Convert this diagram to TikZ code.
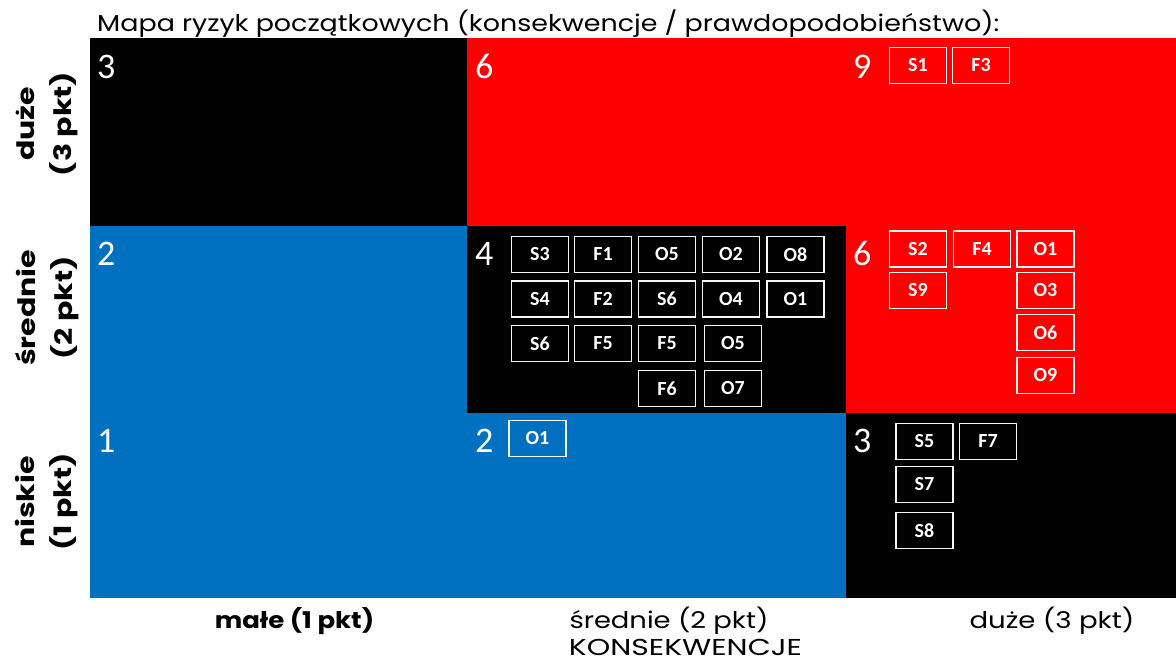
\documentclass[tikz,border=0pt]{standalone}
\usepackage{graphicx}
\usepackage{fontspec}
\setmainfont{Carlito}
\newfontfamily\headfont{Poppins}
\definecolor{riskred}{HTML}{FF0000}
\definecolor{riskblue}{HTML}{0070C0}
% horizontal stretch of a wide geometric label
\newcommand\widen[2]{\scalebox{#1}[1]{#2}}
\tikzset{
  chip/.style={draw=white!92!gray, line width=1.3pt, minimum width=57pt, minimum height=36pt,
    inner sep=0pt, text=white, font=\bfseries\fontsize{20}{20}\selectfont},
  score/.style={anchor=base west, inner sep=0pt, text=white, font=\fontsize{36}{36}\selectfont},
  axislabel/.style={anchor=base, inner sep=0pt, text=black, font=\headfont\fontsize{23}{23}\selectfont},
  rowlabel/.style={inner sep=0pt, rotate=90, align=center, text=black,
    font=\headfont\bfseries\fontsize{24}{37}\selectfont}
}
\begin{document}
\begin{tikzpicture}[x=1pt,y=-1pt]
\useasboundingbox (0,0) rectangle (1176,667);
\fill[white] (0,0) rectangle (1176,667);

% title
\node[axislabel, anchor=base west] (title) at (97,31)
  {\widen{1.17}{Mapa ryzyk początkowych (konsekwencje / prawdopodobieństwo):}};

% risk matrix cells
\fill[black]     (90,38)  rectangle (467,226);
\fill[riskred]   (467,38) rectangle (1176,226);
\fill[riskblue]  (90,226) rectangle (467,413);
\fill[black]     (467,226) rectangle (846,413);
\fill[riskred]   (846,226) rectangle (1176,413);
\fill[riskblue]  (90,413) rectangle (846,598);
\fill[black]     (846,413) rectangle (1176,598);

% scores
\node[score] (s13) at (97,78)   {3};
\node[score] (s23) at (475,78)  {6};
\node[score] (s33) at (853,78)  {9};
\node[score] (s12) at (97,265)  {2};
\node[score] (s22) at (475,265) {4};
\node[score] (s32) at (853,265) {6};
\node[score] (s11) at (97,452)  {1};
\node[score] (s21) at (475,452) {2};
\node[score] (s31) at (853,452) {3};

% high / high
\node[chip] (hhS1) at (918,65.5) {S1};
\node[chip] (hhF3) at (981,65.5) {F3};

% medium / medium
\node[chip] (mmS3) at (540,254.5) {S3};
\node[chip] (mmF1) at (603,254.5) {F1};
\node[chip] (mmO5) at (667,254.5) {O5};
\node[chip] (mmO2) at (731,254.5) {O2};
\node[chip] (mmO8) at (795.5,254.5) {O8};
\node[chip] (mmS4) at (540,299) {S4};
\node[chip] (mmF2) at (603,299) {F2};
\node[chip] (mmS6) at (667,299) {S6};
\node[chip] (mmO4) at (731,299) {O4};
\node[chip] (mmO1) at (795.5,299) {O1};
\node[chip] (mmS6b) at (540,343.5) {S6};
\node[chip] (mmF5) at (603,343.5) {F5};
\node[chip] (mmF5b) at (667,343.5) {F5};
\node[chip] (mmO5b) at (733,343.5) {O5};
\node[chip] (mmF6) at (667,388.5) {F6};
\node[chip] (mmO7) at (733,388.5) {O7};

% high consequence / medium probability
\node[chip] (hmS2) at (918,249) {S2};
\node[chip] (hmF4) at (982,249) {F4};
\node[chip] (hmO1) at (1045.5,249) {O1};
\node[chip] (hmS9) at (918,290.5) {S9};
\node[chip] (hmO3) at (1045.5,290.5) {O3};
\node[chip] (hmO6) at (1045.5,332.5) {O6};
\node[chip] (hmO9) at (1045.5,375.5) {O9};

% medium consequence / low probability
\node[chip] (mlO1) at (537.5,438.5) {O1};

% high consequence / low probability
\node[chip] (hlS5) at (924.5,441.5) {S5};
\node[chip] (hlF7) at (988,441.5) {F7};
\node[chip] (hlS7) at (924.5,484.5) {S7};
\node[chip] (hlS8) at (924.5,530.5) {S8};

% probability axis
\node[rowlabel] (pHigh) at (47,124) {\widen{1.25}{duże}\\\widen{1.25}{(3 pkt)}};
\node[rowlabel] (pMid)  at (47,308) {\widen{1.25}{średnie}\\\widen{1.25}{(2 pkt)}};
\node[rowlabel] (pLow)  at (47,502) {\widen{1.25}{niskie}\\\widen{1.25}{(1 pkt)}};

% consequence axis
\node[axislabel, font=\headfont\bfseries\fontsize{23}{23}\selectfont] (cLow) at (294.5,628) {\widen{1.13}{małe (1 pkt)}};
\node[axislabel] (cMid) at (669,628) {\widen{1.19}{średnie (2 pkt)}};
\node[axislabel] (cHigh) at (1052,628) {\widen{1.2}{duże (3 pkt)}};
\node[axislabel] (cAxis) at (685.5,655) {\widen{1.3}{KONSEKWENCJE}};
\end{tikzpicture}
\end{document}
